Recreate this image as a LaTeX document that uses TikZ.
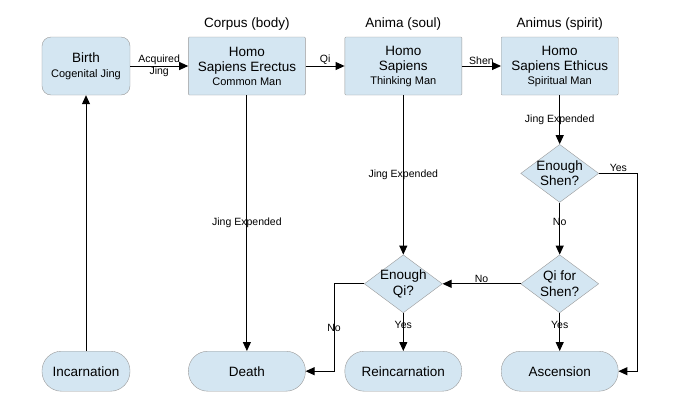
\documentclass[tikz,border=0pt]{standalone}
\usepackage{fontspec}
\setmainfont{Liberation Sans}
\usetikzlibrary{arrows.meta, positioning, shapes.geometric}

\definecolor{boxfill}{HTML}{D4E6F2}
\definecolor{boxline}{HTML}{9A9A9A}
\newcommand{\subline}[1]{{\fontsize{11}{13}\selectfont #1}}

\begin{document}
\begin{tikzpicture}[
  font=\fontsize{13.5}{15.5}\selectfont,
  stage/.style={draw=boxline, fill=boxfill, rounded corners=1pt, align=center,
                minimum width=117pt, minimum height=58pt, inner sep=2pt},
  start/.style={stage, rounded corners=9pt, minimum width=88pt},
  finish/.style={stage, rounded corners=19.5pt, minimum height=40pt},
  check/.style={draw=boxline, fill=boxfill, diamond, aspect=1.34, align=center,
                minimum width=78pt, minimum height=58pt, inner sep=-5pt},
  colhead/.style={font=\fontsize{13.5}{15.5}\selectfont},
  lbl/.style={font=\fontsize{10.5}{11.5}\selectfont, inner sep=1pt, align=center},
  arr/.style={-{Triangle[length=9pt, width=8pt]}, line width=1pt},
  node distance=39pt]

  % upper row
  \node[start] (birth) {Birth\\[-1pt]\subline{Cogenital Jing}};
  \node[stage, right=58pt of birth] (erectus)
    {Homo\\Sapiens Erectus\\[-2pt]\subline{Common Man}};
  \node[stage, right=of erectus] (thinking)
    {Homo\\Sapiens\\[-2pt]\subline{Thinking Man}};
  \node[stage, right=of thinking] (ethicus)
    {Homo\\Sapiens Ethicus\\[-2pt]\subline{Spiritual Man}};

  \node[colhead, above=3pt of erectus] (corpus) {Corpus (body)};
  \node[colhead, above=3pt of thinking] (anima) {Anima (soul)};
  \node[colhead, above=3pt of ethicus] (animus) {Animus (spirit)};

  % decisions
  \node[check, below=49pt of ethicus] (enoughshen) {Enough\\Shen?};
  \node[check, below=52pt of enoughshen] (qishen) {Qi for\\Shen?};
  \node[check] at (thinking |- qishen) (enoughqi) {Enough\\Qi?};

  % outcomes
  \node[finish, below=38pt of qishen] (ascension) {Ascension};
  \node[finish] at (thinking |- ascension) (reinc) {Reincarnation};
  \node[finish] at (erectus |- ascension) (death) {Death};
  \node[finish, minimum width=88pt] at (birth |- ascension) (incarn) {Incarnation};

  \path[use as bounding box] (-86pt,66pt) rectangle (604pt,-334pt);

  \draw[arr] (incarn) -- (birth);
  \draw[arr] (birth) -- node[lbl] {Acquired\\Jing} (erectus);
  \draw[arr] (erectus) -- node[lbl, above] {Qi} (thinking);
  \draw[arr] (thinking) -- node[lbl, above] {Shen} (ethicus);

  \draw[arr] (erectus) -- node[lbl] {Jing Expended} (death);
  \draw[arr] (thinking) -- node[lbl] {Jing Expended} (enoughqi);
  \draw[arr] (ethicus) -- node[lbl] {Jing Expended} (enoughshen);

  \draw[arr] (enoughshen) -- node[lbl, pos=.37] {No} (qishen);
  \draw[arr] (enoughshen.east) -- node[lbl, above] {Yes} ++(39pt,0) |- (ascension);
  \draw[arr] (qishen) -- node[lbl, above] {No} (enoughqi);
  \draw[arr] (qishen) -- node[lbl, pos=.32] {Yes} (ascension);
  \draw[arr] (enoughqi) -- node[lbl, pos=.32] {Yes} (reinc);
  \draw[arr] (enoughqi.west) -- ++(-30pt,0) |- node[lbl, pos=.25] {No} (death);
\end{tikzpicture}
\end{document}
